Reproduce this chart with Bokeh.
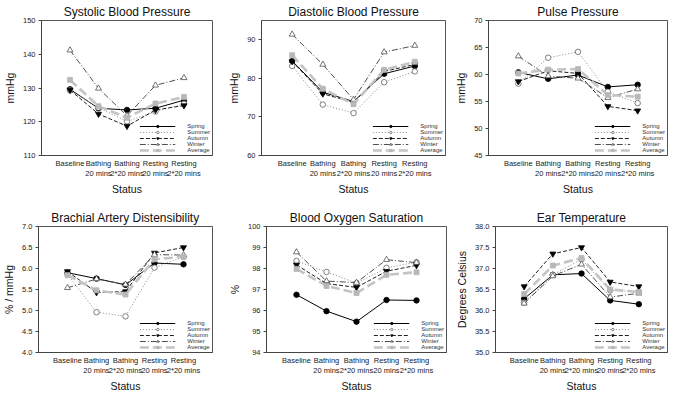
from bokeh.plotting import figure
from bokeh.layouts import column, row
from bokeh.models import FixedTicker, Range1d, PrintfTickFormatter, LinearAxis
from bokeh.embed import file_html
from bokeh.resources import INLINE

status_top = ["Baseline", "Bathing", "Bathing", "Resting", "Resting"]
status_bottom = ["", "20 mins", "2*20 mins", "20 mins", "2*20 mins"]
seasons = ["Spring", "Summer", "Autumn", "Winter", "Average"]

# Systolic Blood Pressure (mmHg)
sys_spring = [129.6, 124.0, 123.5, 124.0, 126.4]
sys_summer = [129.3, 124.2, 120.1, 123.0, 125.3]
sys_autumn = [129.4, 122.3, 118.7, 123.5, 124.8]
sys_winter = [141.2, 129.9, 121.8, 130.8, 133.0]
sys_average = [132.4, 124.6, 121.2, 125.4, 127.3]

# Diastolic Blood Pressure (mmHg)
dia_spring = [84.5, 76.4, 74.0, 81.2, 83.2]
dia_summer = [83.2, 73.2, 71.0, 79.0, 81.8]
dia_autumn = [84.4, 76.0, 73.8, 81.8, 83.6]
dia_winter = [91.4, 83.6, 74.5, 86.8, 88.5]
dia_average = [86.0, 77.3, 73.3, 82.2, 84.3]

# Pulse Pressure (mmHg)
pp_spring = [60.4, 59.2, 59.9, 57.7, 58.1]
pp_summer = [58.3, 63.1, 64.2, 56.8, 54.7]
pp_autumn = [58.7, 60.7, 60.2, 54.1, 53.3]
pp_winter = [63.4, 59.7, 59.3, 55.7, 57.3]
pp_average = [60.2, 60.9, 61.0, 56.2, 55.9]

# Brachial Artery Distensibility (% / mmHg)
bad_spring = [5.90, 5.76, 5.61, 6.13, 6.10]
bad_summer = [5.86, 4.96, 4.86, 6.02, 6.28]
bad_autumn = [5.93, 5.43, 5.45, 6.37, 6.50]
bad_winter = [5.54, 5.75, 5.62, 6.33, 6.32]
bad_average = [5.84, 5.48, 5.38, 6.22, 6.28]

# Blood Oxygen Saturation (%)
ox_spring = [96.75, 95.97, 95.47, 96.50, 96.48]
ox_summer = [98.36, 97.84, 97.30, 98.03, 98.30]
ox_autumn = [98.17, 97.28, 97.10, 97.87, 98.15]
ox_winter = [98.78, 97.40, 97.33, 98.42, 98.28]
ox_average = [97.98, 97.17, 96.83, 97.70, 97.82]

# Ear Temperature (Degrees Celsius)
ear_spring = [36.28, 36.85, 36.88, 36.24, 36.15]
ear_summer = [36.19, 36.85, 37.22, 36.48, 36.45]
ear_autumn = [36.57, 37.35, 37.50, 36.68, 36.57]
ear_winter = [36.17, 36.82, 37.10, 36.32, 36.41]
ear_average = [36.39, 37.07, 37.25, 36.50, 36.44]

FONT = "Liberation Sans"

STYLES = {
    "Spring": dict(color="#000000", dash="solid", lw=1.0, marker="circle", fill="#000000", mcolor="#000000", size=5.5),
    "Summer": dict(color="#8a8a8a", dash="1 2", lw=1.0, marker="circle", fill="#ffffff", mcolor="#606060", size=5.5),
    "Autumn": dict(color="#202020", dash="4 2", lw=1.0, marker="inverted_triangle", fill="#000000", mcolor="#000000", size=6),
    "Winter": dict(color="#505050", dash="6 2 1 2", lw=1.0, marker="triangle", fill="#ffffff", mcolor="#505050", size=6),
    "Average": dict(color="#c4c4c4", dash="9 4", lw=2.6, marker="square", fill="#b8b8b8", mcolor="#b8b8b8", size=5),
}


def style_axis(ax):
    ax.axis_line_color = "#444444"
    ax.major_tick_line_color = "#444444"
    ax.major_tick_in = 0
    ax.major_tick_out = 3
    ax.minor_tick_line_color = None
    ax.major_label_text_font = FONT
    ax.major_label_text_font_size = "7.5px"
    ax.major_label_text_color = "#222222"
    ax.axis_label_text_font = FONT
    ax.axis_label_text_font_size = "10.5px"
    ax.axis_label_text_font_style = "normal"
    ax.axis_label_text_color = "#111111"
    ax.major_label_standoff = 3
    ax.axis_label_standoff = 4


def panel(title, ylabel, series, y0, y1, ystep_ticks, fmt, w, h, bl, br, bt, bb):
    p = figure(width=w, height=h, output_backend="svg", toolbar_location=None,
               x_range=Range1d(-1, len(status_top)), y_range=Range1d(y0, y1),
               min_border_left=bl, min_border_right=br, min_border_top=bt, min_border_bottom=bb)
    p.title.text = title
    p.title.text_font = FONT
    p.title.text_font_size = "12px"
    p.title.text_font_style = "normal"
    p.title.align = "center"
    p.title.text_color = "#111111"
    p.title.standoff = 4
    p.xgrid.visible = False
    p.ygrid.visible = False
    p.outline_line_color = "#555555"
    p.outline_line_width = 1
    p.background_fill_color = "white"
    p.border_fill_color = "white"

    xs = list(range(len(status_top)))
    for name, vals in zip(seasons, series):
        s = STYLES[name]
        p.line(xs, vals, line_color=s["color"], line_dash=s["dash"], line_width=s["lw"], legend_label=name)
        p.scatter(xs, vals, marker=s["marker"], size=s["size"], fill_color=s["fill"],
                  line_color=s["mcolor"], line_width=0.8, legend_label=name)

    xa = p.xaxis[0]
    style_axis(xa)
    xa.ticker = FixedTicker(ticks=xs)
    xa.major_label_overrides = {i: lab for i, lab in enumerate(status_top)}
    xa.major_tick_line_color = None
    xa.major_tick_out = 0
    xa.major_label_standoff = 3

    xb = LinearAxis(ticker=FixedTicker(ticks=xs))
    style_axis(xb)
    xb.major_label_overrides = {i: lab for i, lab in enumerate(status_bottom)}
    xb.axis_line_color = None
    xb.major_tick_line_color = None
    xb.major_tick_out = 0
    xb.major_label_standoff = -2
    xb.axis_label = "Status"
    xb.axis_label_standoff = 2
    p.add_layout(xb, "below")

    ya = p.yaxis[0]
    style_axis(ya)
    ya.axis_label = ylabel
    ya.ticker = FixedTicker(ticks=ystep_ticks)
    ya.formatter = PrintfTickFormatter(format=fmt)

    lg = p.legend[0]
    lg.location = "bottom_right"
    lg.border_line_color = None
    lg.background_fill_alpha = 0
    lg.label_text_font = FONT
    lg.label_text_font_size = "6px"
    lg.label_text_color = "#333333"
    lg.glyph_width = 36
    lg.glyph_height = 6
    lg.label_height = 6
    lg.label_standoff = 12
    lg.spacing = 0
    lg.padding = 3
    lg.margin = 2
    return p


p1 = panel("Systolic Blood Pressure", "mmHg",
           [sys_spring, sys_summer, sys_autumn, sys_winter, sys_average],
           110, 150, [110, 120, 130, 140, 150], "%d", 225, 197, 30, 13, 17, 38)
p2 = panel("Diastolic Blood Pressure", "mmHg",
           [dia_spring, dia_summer, dia_autumn, dia_winter, dia_average],
           60, 95, [60, 70, 80, 90], "%d", 227, 197, 28, 7, 15, 40)
p3 = panel("Pulse Pressure", "mmHg",
           [pp_spring, pp_summer, pp_autumn, pp_winter, pp_average],
           45, 70, [45, 50, 55, 60, 65, 70], "%d", 217, 197, 30, 2, 13, 40)
p4 = panel("Brachial Artery Distensibility", "% / mmHg",
           [bad_spring, bad_summer, bad_autumn, bad_winter, bad_average],
           4.0, 7.0, [4.0, 4.5, 5.0, 5.5, 6.0, 6.5, 7.0], "%.1f", 225, 197, 30, 13, 29, 36)
p5 = panel("Blood Oxygen Saturation", "%",
           [ox_spring, ox_summer, ox_autumn, ox_winter, ox_average],
           94, 100, [94, 95, 96, 97, 98, 99, 100], "%d", 227, 197, 31, 6, 29, 36)
p6 = panel("Ear Temperature", "Degrees Celsius",
           [ear_spring, ear_summer, ear_autumn, ear_winter, ear_average],
           35.0, 38.0, [35.0, 35.5, 36.0, 36.5, 37.0, 37.5, 38.0], "%.1f", 217, 197, 28, 2, 27, 37)

layout = column(row(p1, p2, p3, spacing=0), row(p4, p5, p6, spacing=0), spacing=0)
open("out.html", "w").write(file_html(layout, INLINE))
